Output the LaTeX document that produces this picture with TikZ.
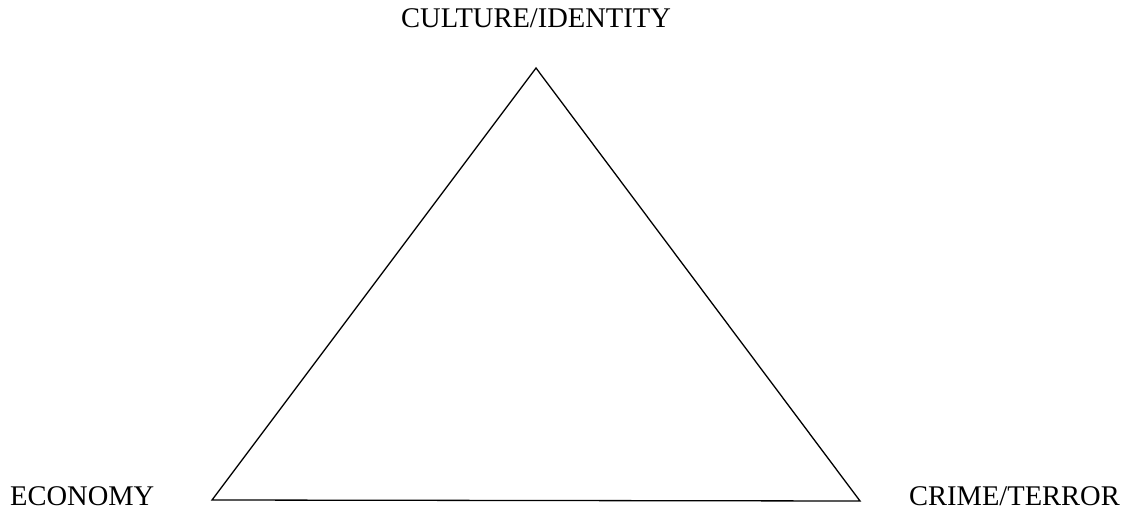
\documentclass[tikz,border=0pt]{standalone}
\usepackage{fontspec}
\setmainfont{Liberation Serif}
\begin{document}
\begin{tikzpicture}[x=1pt,y=-1pt,
  lbl/.style={inner sep=0pt,font=\fontsize{28.5}{30}\selectfont},
  edge/.style={line width=1.3pt,line join=miter}]
\useasboundingbox (0,0) rectangle (1130,513);
\coordinate (top) at (536,68);
\coordinate (bl) at (212,500);
\coordinate (br) at (860,501);
\draw[edge] (top) -- (bl) -- (br) -- cycle;
\node[lbl,anchor=base] (culture) at (536,28) {CULTURE/IDENTITY};
\node[lbl,anchor=base west] (economy) at (10,505) {ECONOMY};
\node[lbl,anchor=base east] (crime) at (1120,505) {CRIME/TERROR};
\end{tikzpicture}
\end{document}
